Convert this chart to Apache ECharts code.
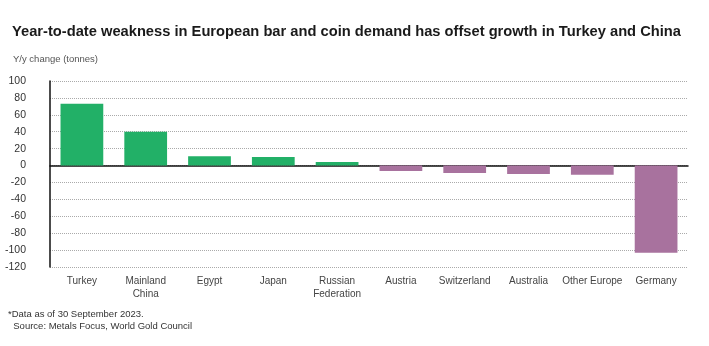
<!DOCTYPE html>
<html><head><meta charset="utf-8">
<script src="https://cdn.jsdelivr.net/npm/echarts@6/dist/echarts.min.js"></script>
<style>html,body{margin:0;padding:0;background:#fff}#c{width:709px;height:346px}</style>
</head><body><div id="c"></div>
<script>
const categories = ['Turkey','Mainland\nChina','Egypt','Japan','Russian\nFederation','Austria','Switzerland','Australia','Other Europe','Germany'];
const values = [73, 40, 11, 10, 4.3, -6.4, -8.8, -10, -11, -103];
const yTicks = {min: -120, max: 100, interval: 20};
const titleText = 'Year-to-date weakness in European bar and coin demand has offset growth in Turkey and China';
const subtitleText = 'Y/y change (tonnes)';
const footnotes = ['*Data as of 30 September 2023.', '  Source: Metals Focus, World Gold Council'];

const chart = echarts.init(document.getElementById('c'));
chart.setOption({
  animation: false,
  backgroundColor: '#fff',
  textStyle: {fontFamily: 'Liberation Sans, Arial, sans-serif'},
  title: [{
    text: titleText, left: 7, top: 19,
    textStyle: {fontSize: 14.7, fontWeight: 'bold', color: '#1a1a1a'}
  },{
    text: subtitleText, left: 8, top: 49,
    textStyle: {fontSize: 9.5, fontWeight: 'normal', color: '#555'}
  },{
    text: footnotes.join('\n'), left: 3, top: 303,
    textStyle: {fontSize: 9.5, fontWeight: 'normal', color: '#333', lineHeight: 12}
  }],
  grid: {left: 50, right: 21, top: 81, bottom: 79, containLabel: false},
  xAxis: {
    type: 'category', data: categories,
    axisLine: {show: true, onZero: true, lineStyle: {color: '#111', width: 1.5}},
    axisTick: {show: false},
    axisLabel: {interval: 0, color: '#444', fontSize: 10, lineHeight: 13, margin: 8},
    position: 'bottom'
  },
  yAxis: {
    type: 'value', min: yTicks.min, max: yTicks.max, interval: yTicks.interval,
    axisLine: {show: true, lineStyle: {color: '#111', width: 1.5}},
    axisTick: {show: false},
    axisLabel: {color: '#333', fontSize: 10.5, margin: 24},
    splitLine: {show: true, lineStyle: {color: '#aaa', type: [1, 1], width: 1}}
  },
  series: [{
    type: 'bar', data: values.map(v => ({value: v, itemStyle: {color: v >= 0 ? '#22b067' : '#a8729e'}})),
    barWidth: '67%'
  }]
});
</script></body></html>
